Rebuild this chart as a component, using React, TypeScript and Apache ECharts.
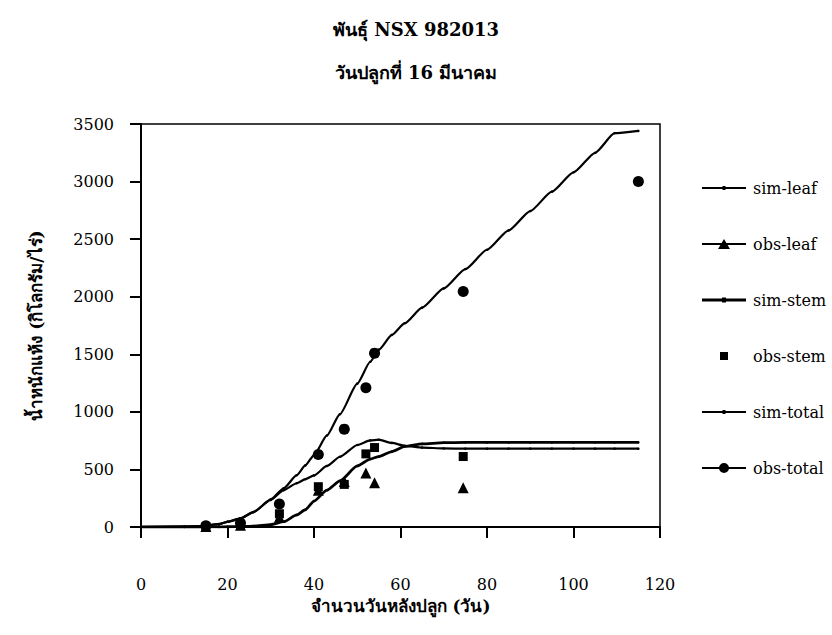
import React, { useEffect, useRef } from "react";
import * as echarts from "echarts";

// Days after planting for the simulated curves
const simDays = [0, 10, 14, 18, 20, 23, 26, 30, 33, 36, 38, 40, 43, 46, 50, 53, 55, 58, 61, 65, 70, 75, 80, 85, 90, 95, 100, 105, 109.5, 115];
const simLeaf = [0, 3, 8, 25, 45, 75, 130, 235, 320, 380, 415, 448, 530, 610, 712, 752, 758, 730, 705, 690, 682, 680, 680, 680, 680, 680, 680, 680, 680, 680];
const simStem = [0, 0, 0, 1, 2, 4, 8, 20, 46, 105, 150, 225, 320, 400, 530, 590, 612, 655, 700, 722, 732, 735, 735, 735, 735, 735, 735, 735, 735, 735];
const simTotal = [0, 3, 8, 25, 45, 75, 130, 240, 336, 450, 535, 625, 795, 980, 1245, 1435, 1540, 1668, 1770, 1905, 2072, 2240, 2408, 2576, 2744, 2912, 3080, 3250, 3420, 3440];

// Observed sampling days and measurements (kg/rai)
const obsDays = [15, 23, 32, 41, 47, 52, 54, 74.5, 115];
const obsLeaf = [5, 15, 85, 320, 395, 470, 385, 340, null];
const obsStem = [3, 15, 115, 350, 370, 635, 690, 612, null];
const obsTotal = [10, 35, 200, 630, 850, 1210, 1510, 2045, 3000];

const xTicks = { min: 0, max: 120, interval: 20 };
const yTicks = { min: 0, max: 3500, interval: 500 };

const titleText = "พันธุ์ NSX 982013";
const subtitleText = "วันปลูกที่ 16 มีนาคม";
const xName = "จำนวนวันหลังปลูก (วัน)";
const yName = "น้ำหนักแห้ง (กิโลกรัม/ไร่)";

const SERIF = "'DejaVu Serif', 'Liberation Serif', serif";
const BLACK = "#000";

// Legend keys drawn as a 44px-wide path: a rule with the series marker on it
const ICON_SIM = "path://M0,5H44V7H0Z M20.5,4H23.5V8H20.5Z";
const ICON_SIM_THICK = "path://M0,4.5H44V7.5H0Z M20,3.5H24V8.5H20Z";
const ICON_TRIANGLE = "path://M0,5H44V7H0Z M16,11L22,1L28,11Z";
const ICON_CIRCLE = "path://M0,5H44V7H0Z M17,6A5,5 0 1,1 27,6A5,5 0 1,1 17,6Z";
const ICON_SQUARE = "path://M0,6H0.01V6.01H0Z M18,2H26V10H18Z M43.99,6H44V6.01H43.99Z";

const pair = (xs: number[], ys: (number | null)[]) =>
  xs.map((x, i) => [x, ys[i]]).filter((p) => p[1] !== null);

export default function App() {
  const ref = useRef<HTMLDivElement>(null);

  useEffect(() => {
    if (!ref.current) return;
    const chart = echarts.init(ref.current, undefined, { renderer: "svg" });

    const simLine = (name: string, ys: number[], width: number) => ({
      name,
      type: "line",
      data: pair(simDays, ys),
      smooth: 0.2,
      smoothMonotone: "x",
      symbol: "circle",
      symbolSize: 2.5,
      showSymbol: true,
      itemStyle: { color: BLACK, opacity: 1 },
      lineStyle: { color: BLACK, width },
      z: 2,
    });

    chart.setOption({
      animation: false,
      backgroundColor: "#fff",
      title: [
        {
          text: titleText,
          left: "center",
          top: 15,
          textStyle: { fontFamily: SERIF, fontWeight: "bold", fontSize: 18, color: BLACK },
        },
        {
          text: subtitleText,
          left: "center",
          top: 58,
          textStyle: { fontFamily: SERIF, fontWeight: "bold", fontSize: 18, color: BLACK },
        },
      ],
      grid: {
        left: 141,
        top: 124,
        right: 172,
        bottom: 108,
        show: true,
        borderColor: BLACK,
        borderWidth: 1.5,
        backgroundColor: "transparent",
      },
      legend: {
        orient: "vertical",
        left: 697,
        top: 175,
        itemWidth: 44,
        itemHeight: 12,
        itemGap: 40,
        textStyle: { fontFamily: SERIF, fontSize: 16, color: BLACK, padding: [0, 0, 0, 2] },
        data: [
          { name: "sim-leaf", icon: ICON_SIM },
          { name: "obs-leaf", icon: ICON_TRIANGLE },
          { name: "sim-stem", icon: ICON_SIM_THICK },
          { name: "obs-stem", icon: ICON_SQUARE },
          { name: "sim-total", icon: ICON_SIM },
          { name: "obs-total", icon: ICON_CIRCLE },
        ],
      },
      xAxis: {
        type: "value",
        ...xTicks,
        name: xName,
        nameLocation: "middle",
        nameGap: 70,
        nameTextStyle: { fontFamily: SERIF, fontWeight: "bold", fontSize: 17, color: BLACK },
        axisLine: { lineStyle: { color: BLACK, width: 2 } },
        axisTick: { length: 11, lineStyle: { color: BLACK, width: 2 } },
        axisLabel: { margin: 49, fontFamily: SERIF, fontSize: 16, color: BLACK },
        splitLine: { show: false },
      },
      yAxis: {
        type: "value",
        ...yTicks,
        name: yName,
        nameLocation: "middle",
        nameGap: 97,
        nameTextStyle: { fontFamily: SERIF, fontWeight: "bold", fontSize: 17, color: BLACK },
        axisLine: { show: true, lineStyle: { color: BLACK, width: 2 } },
        axisTick: { show: true, length: 11, lineStyle: { color: BLACK, width: 2 } },
        axisLabel: {
          margin: 27,
          fontFamily: SERIF,
          fontSize: 16,
          color: BLACK,
          formatter: (v: number) => String(v),
        },
        splitLine: { show: false },
      },
      series: [
        simLine("sim-leaf", simLeaf, 2.2),
        {
          name: "obs-leaf",
          type: "scatter",
          data: pair(obsDays, obsLeaf),
          symbol: "triangle",
          symbolSize: 11,
          itemStyle: { color: BLACK, opacity: 1 },
          z: 3,
        },
        simLine("sim-stem", simStem, 2.8),
        {
          name: "obs-stem",
          type: "scatter",
          data: pair(obsDays, obsStem),
          symbol: "rect",
          symbolSize: 9,
          itemStyle: { color: BLACK, opacity: 1 },
          z: 3,
        },
        simLine("sim-total", simTotal, 2.2),
        {
          name: "obs-total",
          type: "scatter",
          data: pair(obsDays, obsTotal),
          symbol: "circle",
          symbolSize: 11,
          itemStyle: { color: BLACK, opacity: 1 },
          z: 3,
        },
      ],
    });

    return () => chart.dispose();
  }, []);

  return (
    <div
      ref={ref}
      style={{ position: "absolute", left: 0, top: 0, width: 832, height: 635 }}
    />
  );
}
